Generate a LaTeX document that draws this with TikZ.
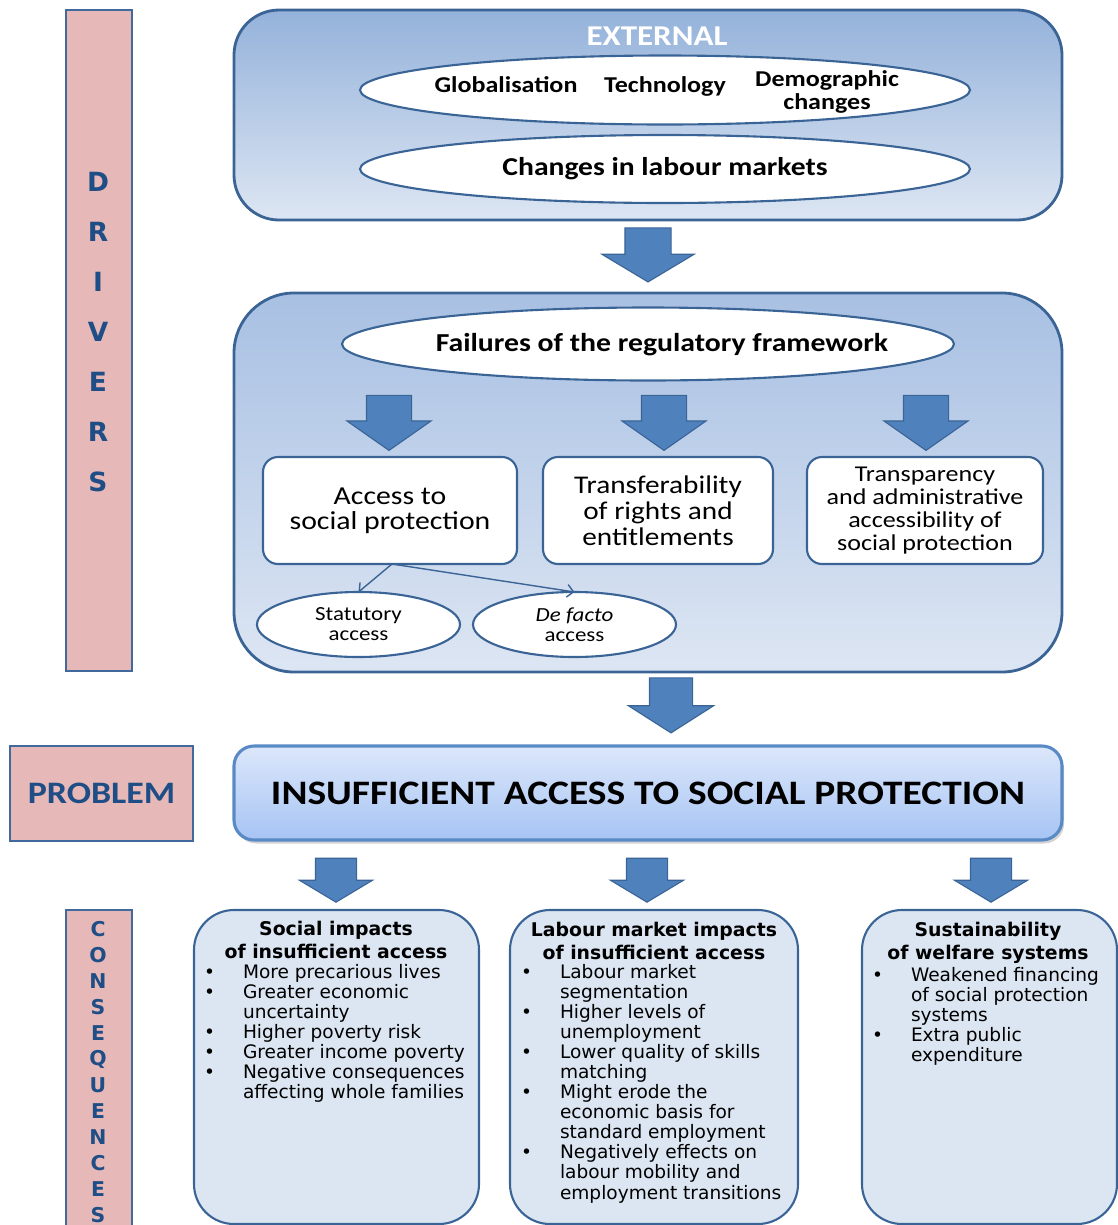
\documentclass[tikz,border=0pt]{standalone}
\usepackage{fontspec}
\setmainfont{Carlito}[FakeStretch=1.15]
\newfontfamily\verd{DejaVu Sans}
\usetikzlibrary{arrows.meta,shapes.geometric,shapes.arrows,shadows}

\definecolor{PanelLine}{HTML}{3B6496}
\definecolor{ArrowBlue}{HTML}{4F81BD}
\definecolor{BarPink}{HTML}{E6B8B7}
\definecolor{BarLine}{HTML}{41699B}
\definecolor{BarText}{HTML}{1F4E86}
\definecolor{PanelTop}{HTML}{94B2DA}
\definecolor{PanelBottom}{HTML}{DDE6F3}
\definecolor{FailTop}{HTML}{A8C0E3}
\definecolor{ConsFill}{HTML}{DCE6F2}
\definecolor{ProblemTop}{HTML}{DCE7FA}
\definecolor{ProblemBottom}{HTML}{A6C4F4}
\definecolor{ProblemLine}{HTML}{5A8AC6}

\newlength\unitpx
\setlength\unitpx{0.025cm}
\newcommand\fs[2]{\fontsize{#1}{#2}\selectfont}

\begin{document}
\begin{tikzpicture}[x=0.025cm, y=-0.025cm,
      every node/.append style={inner sep=0pt, outer sep=0pt},
      panel/.style={rectangle, draw=PanelLine, line width=2pt},
      oval/.style={ellipse, draw=PanelLine, line width=1.5pt, fill=white, align=center},
      whitebox/.style={rectangle, rounded corners=15\unitpx, draw=PanelLine, line width=1.5pt,
                       fill=white, align=center, minimum height=107\unitpx},
      blockarrow/.style={single arrow, shape border rotate=270, draw=PanelLine, line width=0.8pt,
                         fill=ArrowBlue, single arrow head indent=0pt, inner ysep=0pt},
      sidebar/.style={rectangle, draw=BarLine, line width=2pt, fill=BarPink},
      consbox/.style={rectangle, rounded corners=40\unitpx, draw=PanelLine, line width=1.5pt,
                      fill=ConsFill, minimum height=314\unitpx}]
    \tikzstyle{letter} = [font=\verd\bfseries\fs{18.8}{20}, text=BarText]
    \tikzstyle{smallletter} = [font=\verd\bfseries\fs{14.5}{15}, text=BarText]
    \tikzstyle{constitle} = [font=\verd\bfseries\fs{13.4}{16.4}, align=center]
    \tikzstyle{conslist} = [font=\verd\fs{13.2}{14.2}, anchor=base west]
    \useasboundingbox (0,0) rectangle (1118,1225);

    % side labels
    \node (drivers) [sidebar, minimum width=66\unitpx, minimum height=661\unitpx] at (99,340.5) {};
    \foreach \ch [count=\i] in {D,R,I,V,E,R,S}
      \node (drv\i) [letter] at (98,132+50*\i) {\ch};
    \node (problemlabel) [sidebar, minimum width=183\unitpx, minimum height=95\unitpx,
      font=\bfseries\fs{22.2}{24}, text=BarText] at (101.5,793.5) {PROBLEM};
    \node (consequences) [sidebar, minimum width=66\unitpx, minimum height=330\unitpx] at (99,1075) {};
    \foreach \ch [count=\i] in {C,O,N,S,E,Q,U,E,N,C,E,S}
      \node (csq\i) [smallletter] at (98,903+26*\i) {\ch};

    % external drivers
    \node (external) [panel, rounded corners=45\unitpx, top color=PanelTop, bottom color=PanelBottom,
      minimum width=828\unitpx, minimum height=210\unitpx] at (648,115) {};
    \node (exttitle) [font=\bfseries\fs{20.4}{22}, text=white] at (657,36) {EXTERNAL};
    \node (trends) [oval, minimum width=610\unitpx, minimum height=69\unitpx] at (665,90) {};
    \node (globalisation) [font=\bfseries\fs{16.1}{15.6}] at (506,85) {Globalisation};
    \node (technology) [font=\bfseries\fs{16.1}{15.6}] at (665,86) {Technology};
    \node (demographic) [font=\bfseries\fs{16.1}{16.5}, align=center] at (827,92) {Demographic\\changes};
    \node (labour) [oval, minimum width=610\unitpx, minimum height=68\unitpx,
      font=\bfseries\fs{18.3}{18}] at (665,169) {Changes in labour markets};

    \node (arrow1) [blockarrow, inner xsep=22.5\unitpx, minimum height=54\unitpx,
      single arrow head extend=23\unitpx, single arrow tip angle=118] at (648,248) {};

    % regulatory framework
    \node (regulatory) [panel, rounded corners=60\unitpx, top color=FailTop, bottom color=PanelBottom,
      minimum width=828\unitpx, minimum height=379\unitpx] at (648,482.5) {};
    \node (failures) [oval, minimum width=612\unitpx, minimum height=73\unitpx] at (648,344) {};
    \node (failtext) [font=\bfseries\fs{18.4}{18}] at (662,345) {Failures of the regulatory framework};
    \foreach \x [count=\i] in {389,664,926}
      \node (fail\i) [blockarrow, inner xsep=22\unitpx, minimum height=55\unitpx,
        single arrow head extend=19.5\unitpx, single arrow tip angle=110] at (\x,415) {};
    \node (access) [whitebox, minimum width=254\unitpx, font=\fs{18.4}{17.8}] at (390,510.5)
      {Access to\\social protection};
    \node (transfer) [whitebox, minimum width=230\unitpx, font=\fs{18.1}{18.5}] at (658,510.5)
      {Transferability\\of rights and\\entitlements};
    \node (transparency) [whitebox, minimum width=236\unitpx, font=\fs{16.1}{16.4}] at (925,510.5)
      {Transparency\\and administrative\\accessibility of\\social protection};
    \node (statutory) [oval, minimum width=203\unitpx, minimum height=65\unitpx,
      font=\fs{14.2}{14.2}] at (358.5,624.5) {Statutory\\access};
    \node (defacto) [oval, minimum width=203\unitpx, minimum height=65\unitpx,
      font=\fs{14.2}{14.2}] at (574.5,624.5) {\textit{De facto}\\access};
    \draw[-{Straight Barb[length=4.5pt,width=9pt]}, draw=PanelLine, line width=1pt]
      ([xshift=2\unitpx]access.south) -- (statutory.north);
    \draw[-{Straight Barb[length=4.5pt,width=9pt]}, draw=PanelLine, line width=1pt]
      ([xshift=2\unitpx]access.south) -- (defacto.north);

    \node (arrow2) [blockarrow, inner xsep=21\unitpx, minimum height=55\unitpx,
      single arrow head extend=21\unitpx, single arrow tip angle=115] at (671,698.5) {};

    % problem
    \node (problem) [rectangle, rounded corners=20\unitpx, draw=ProblemLine, line width=2.2pt,
      top color=ProblemTop, bottom color=ProblemBottom,
      drop shadow={opacity=0.35, shadow xshift=1.5pt, shadow yshift=-2.5pt},
      minimum width=828\unitpx, minimum height=94\unitpx,
      font=\bfseries\fs{24.4}{26}] at (648,793) {INSUFFICIENT ACCESS TO SOCIAL PROTECTION};

    \foreach \x [count=\i] in {336,647,991}
      \node (impact\i) [blockarrow, inner xsep=20\unitpx, minimum height=44\unitpx,
        single arrow head extend=16\unitpx, single arrow tip angle=118] at (\x,874) {};

    % consequences
    \node (social) [consbox, minimum width=285\unitpx] at (336.5,1067) {};
    \node (market) [consbox, minimum width=288\unitpx] at (654,1067) {};
    \node (welfare) [consbox, minimum width=255\unitpx] at (989.5,1067) {};

    \node (socialtitle) [constitle] at (336,940) {Social impacts\\of insufficient access};
    \node (sociallist) [conslist] at (204,978) {\begin{tabular}[t]{@{}p{39\unitpx}@{}l@{}}
      \textbullet & More precarious lives\\
      \textbullet & Greater economic\\
                  & uncertainty\\
      \textbullet & Higher poverty risk\\
      \textbullet & Greater income poverty\\
      \textbullet & Negative consequences\\
                  & affecting whole families
    \end{tabular}};

    \node (markettitle) [constitle] at (654,941) {Labour market impacts\\of insufficient access};
    \node (marketlist) [conslist] at (521,978) {\begin{tabular}[t]{@{}p{39\unitpx}@{}l@{}}
      \textbullet & Labour market\\
                  & segmentation\\
      \textbullet & Higher levels of\\
                  & unemployment\\
      \textbullet & Lower quality of skills\\
                  & matching\\
      \textbullet & Might erode the\\
                  & economic basis for\\
                  & standard employment\\
      \textbullet & Negatively effects on\\
                  & labour mobility and\\
                  & employment transitions
    \end{tabular}};

    \node (welfaretitle) [constitle] at (988,943) {Sustainability\\of welfare systems};
    \node (welfarelist) [conslist] at (872,981) {\begin{tabular}[t]{@{}p{39\unitpx}@{}l@{}}
      \textbullet & Weakened financing\\
                  & of social protection\\
                  & systems\\
      \textbullet & Extra public\\
                  & expenditure
    \end{tabular}};
\end{tikzpicture}
\end{document}
